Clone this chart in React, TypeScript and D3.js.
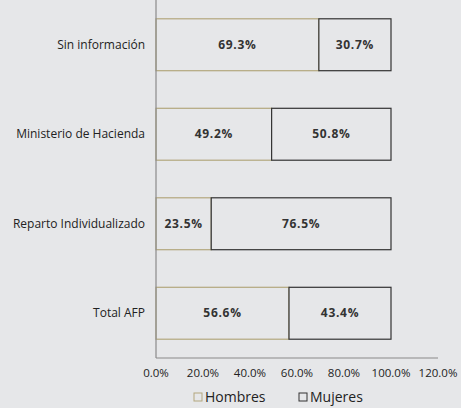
import { useRef, useEffect } from "react";
import * as d3 from "d3";

const categories = ["Sin información", "Ministerio de Hacienda", "Reparto Individualizado", "Total AFP"];
const hombres = [69.3, 49.2, 23.5, 56.6];
const mujeres = [30.7, 50.8, 76.5, 43.4];
const ticks = [0, 20, 40, 60, 80, 100, 120];

const W = 461;
const H = 408;
const FONT = "'Open Sans', 'DejaVu Sans', sans-serif";

export default function App() {
  const svgRef = useRef<SVGSVGElement>(null);

  useEffect(() => {
    const svg = d3.select(svgRef.current);
    svg.selectAll("*").remove();

    const left = 156;
    const x = d3.scaleLinear().domain([0, 120]).range([left, 438]);
    const y = d3.scaleBand().domain(categories).range([0, 358]).paddingInner(0.42).paddingOuter(0.21);

    svg.append("rect").attr("width", W).attr("height", H).attr("fill", "#e6e7e9");

    const rows = categories.map((c, i) => ({ c, h: hombres[i], m: mujeres[i] }));

    // hombres
    svg
      .selectAll(".h")
      .data(rows)
      .join("rect")
      .attr("x", x(0))
      .attr("y", (d) => y(d.c)!)
      .attr("width", (d) => x(d.h) - x(0))
      .attr("height", y.bandwidth())
      .attr("fill", "#e6e7e9")
      .attr("stroke", "#b3a77e")
      .attr("stroke-width", 1.2);

    // mujeres
    svg
      .selectAll(".m")
      .data(rows)
      .join("rect")
      .attr("x", (d) => x(d.h))
      .attr("y", (d) => y(d.c)!)
      .attr("width", (d) => x(d.h + d.m) - x(d.h))
      .attr("height", y.bandwidth())
      .attr("fill", "#e6e7e9")
      .attr("stroke", "#333")
      .attr("stroke-width", 1.2);

    const lbl = (sel: any) =>
      sel
        .attr("dy", "0.35em")
        .attr("text-anchor", "middle")
        .style("font-family", FONT)
        .attr("font-size", "12px")
        .attr("letter-spacing", "0.7px")
        .attr("font-weight", "bold")
        .attr("fill", "#333");

    svg
      .selectAll(".hl")
      .data(rows)
      .join("text")
      .attr("x", (d) => (x(0) + x(d.h)) / 2)
      .attr("y", (d) => y(d.c)! + y.bandwidth() / 2)
      .call(lbl)
      .text((d) => `${d.h.toFixed(1)}%`);

    svg
      .selectAll(".ml")
      .data(rows)
      .join("text")
      .attr("x", (d) => (x(d.h) + x(d.h + d.m)) / 2)
      .attr("y", (d) => y(d.c)! + y.bandwidth() / 2)
      .call(lbl)
      .text((d) => `${d.m.toFixed(1)}%`);

    // axes lines
    svg.append("line").attr("x1", left).attr("x2", left).attr("y1", 0).attr("y2", 358).attr("stroke", "#8a8a8a").attr("stroke-width", 1.2);
    svg.append("line").attr("x1", left).attr("x2", x(120)).attr("y1", 358).attr("y2", 358).attr("stroke", "#8a8a8a").attr("stroke-width", 1.2);

    // category labels
    svg
      .selectAll(".cl")
      .data(categories)
      .join("text")
      .attr("x", 145)
      .attr("y", (d) => y(d)! + y.bandwidth() / 2)
      .attr("dy", "0.35em")
      .attr("text-anchor", "end")
      .style("font-family", FONT)
      .attr("font-size", "12px")
      .attr("fill", "#222")
      .text((d) => d);

    // tick labels
    svg
      .selectAll(".tl")
      .data(ticks)
      .join("text")
      .attr("x", (d) => x(d))
      .attr("y", 373)
      .attr("dy", "0.35em")
      .attr("text-anchor", "middle")
      .style("font-family", FONT)
      .attr("font-size", "11.5px")
      .attr("fill", "#222")
      .text((d) => `${d.toFixed(1)}%`);

    // legend
    const legend = [
      { name: "Hombres", color: "#b3a77e", x: 194 },
      { name: "Mujeres", color: "#333", x: 299 },
    ];
    const lg = svg.selectAll(".lg").data(legend).join("g").attr("transform", (d) => `translate(${d.x},393)`);
    lg.append("rect").attr("width", 8).attr("height", 8).attr("fill", "none").attr("stroke", (d) => d.color).attr("stroke-width", 1);
    lg.append("text")
      .attr("x", 11)
      .attr("y", 4)
      .attr("dy", "0.35em")
      .style("font-family", FONT)
      .attr("font-size", "14px")
      .attr("fill", "#222")
      .text((d) => d.name);
  }, []);

  return (
    <div style={{ position: "absolute", left: 0, top: 0 }}>
      <svg ref={svgRef} width={W} height={H} style={{ display: "block" }} />
    </div>
  );
}
